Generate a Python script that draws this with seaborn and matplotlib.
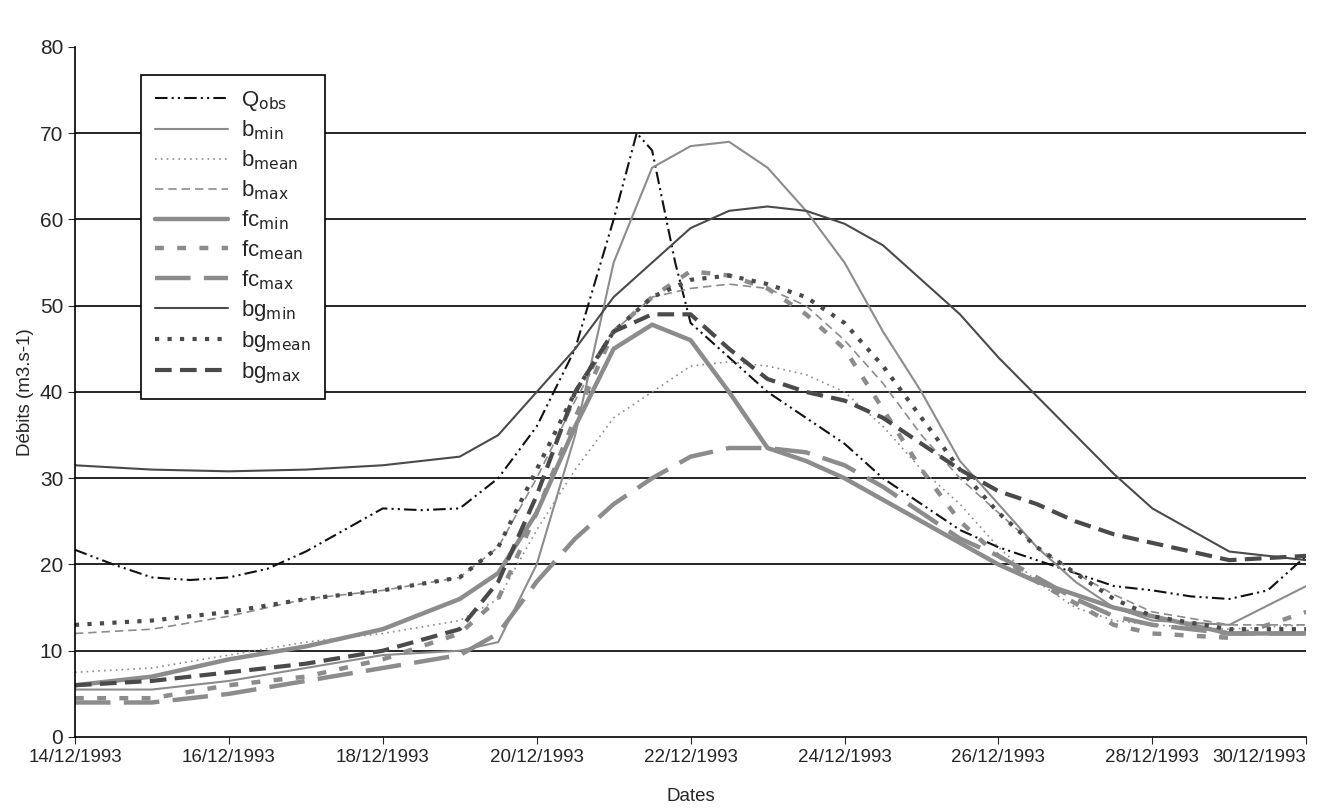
import matplotlib
matplotlib.use("Agg")
import matplotlib.pyplot as plt
import seaborn as sns
import numpy as np

sns.set_style("white")
plt.rcParams['font.family'] = ['Liberation Sans', 'DejaVu Sans']

date_labels = ["14/12/1993","16/12/1993","18/12/1993","20/12/1993","22/12/1993",
               "24/12/1993","26/12/1993","28/12/1993","30/12/1993"]

d_q = [0,0.5,1,1.5,2,2.5,3,3.5,4,4.5,5,5.5,6,6.5,7,7.3,7.5,7.8,8,8.5,9,9.5,10,10.5,11,11.5,12,12.5,13,13.5,14,14.5,15,15.5,16]
q_obs = [21.7,20,18.5,18.2,18.5,19.5,21.5,24,26.5,26.3,26.5,30,36,45,60,70,68,55,48,44,40,37,34,30,27,24,22,20.5,19,17.5,17,16.3,16,17,21]

d = [0,1,2,3,4,5,5.5,6,6.5,7,7.5,8,8.5,9,9.5,10,10.5,11,11.5,12,12.5,13,13.5,14,15,16]
b_min  = [5.5,5.5,6.5,8,9.5,10,11,20,35,55,66,68.5,69,66,61,55,47,40,32,27,22,18,15,13.5,13,17.5]
b_mean = [7.5,8,9.5,11,12,13.5,16,24,31,37,40,43,43.5,43,42,40,36,31,27,22,18,15,13.5,13,12.5,13]
b_max  = [12,12.5,14,16,17,18.5,22,30,39,47,51,52,52.5,52,50,46,41,35,30,26,22,19,16.5,14.5,13,13]
fc_min = [6,7,9,10.5,12.5,16,19,26,36,45,47.8,46,40,33.5,32,30,27.5,25,22.5,20,18,16.5,15,14,12,12]
fc_mean= [4.5,4.5,6,7,9,12,16,26,37,47,51,54,53.5,52,49,45,38,31,25,21,18,15.5,13,12,11.5,14.5]
fc_max = [4,4,5,6.5,8,9.5,12,18,23,27,30,32.5,33.5,33.5,33,31.5,29,26,23,21,18.5,16,14,13,12,12]
bg_min = [31.5,31,30.8,31,31.5,32.5,35,40,45,51,55,59,61,61.5,61,59.5,57,53,49,44,39.5,35,30.5,26.5,21.5,20.5]
bg_mean= [13,13.5,14.5,16,17,18.5,22,31,40,47,51,53,53.5,52.5,51,48,43,37,31,26,22,19,16,14,12.5,12.5]
bg_max = [6,6.5,7.5,8.5,10,12.5,18,28,40,47,49,49,45,41.5,40,39,37,34,31,28.5,27,25,23.5,22.5,20.5,21]

K, DK, GR = "#111111", "#4a4a4a", "#8c8c8c"
series = [
    (r"Q$_{\mathrm{obs}}$", d_q, q_obs, K, 1.5, (0,(6,2,1,2,1,2))),
    (r"b$_{\mathrm{min}}$", d, b_min, GR, 1.5, "-"),
    (r"b$_{\mathrm{mean}}$", d, b_mean, GR, 1.2, (0,(1,2.5))),
    (r"b$_{\mathrm{max}}$", d, b_max, GR, 1.2, (0,(5,3))),
    (r"fc$_{\mathrm{min}}$", d, fc_min, GR, 3.2, "-"),
    (r"fc$_{\mathrm{mean}}$", d, fc_mean, GR, 3.2, (0,(2,3))),
    (r"fc$_{\mathrm{max}}$", d, fc_max, GR, 3.2, (0,(8,3))),
    (r"bg$_{\mathrm{min}}$", d, bg_min, DK, 1.5, "-"),
    (r"bg$_{\mathrm{mean}}$", d, bg_mean, DK, 3.0, (0,(1,2))),
    (r"bg$_{\mathrm{max}}$", d, bg_max, DK, 3.0, (0,(4,2))),
]

fig = plt.figure(figsize=(13.24, 8.09), dpi=100)
ax = fig.add_axes([0.0566, 0.089, 0.930, 0.853])
for i in range(1, 8):
    ax.axhline(i*10, color="black", lw=1.2, zorder=0)
for lab, x, y, c, lw, ls in series:
    sns.lineplot(x=x, y=y, ax=ax, color=c, lw=lw, linestyle=ls, label=lab)

ax.set_xlim(0, 16)
ax.set_ylim(0, 80)
ax.set_xticks(range(0, 17, 2))
ax.set_xticklabels(date_labels, fontsize=13.5)
ax.get_xticklabels()[-1].set_horizontalalignment("right")
ax.get_xticklabels()[-1].set_x(16.25)
ax.set_yticks(range(0, 81, 10))
ax.tick_params(axis='y', labelsize=15, length=5, direction='out', left=True)
ax.tick_params(axis='x', length=5, direction='out', bottom=True)
for s in ["top", "right"]:
    ax.spines[s].set_visible(False)
for s in ["left", "bottom"]:
    ax.spines[s].set_color("black")
    ax.spines[s].set_linewidth(1.2)
ax.set_xlabel("Dates", fontsize=13.5, labelpad=16)
ax.set_ylabel("Débits (m3.s-1)", fontsize=13.5)
leg = ax.legend(loc="upper left", bbox_to_anchor=(0.045, 0.975), fontsize=16,
                frameon=True, fancybox=False, edgecolor="black", handlelength=3.3,
                labelspacing=0.28, borderpad=0.6, handletextpad=0.6)
leg.get_frame().set_linewidth(1.2)
leg.get_frame().set_alpha(1)
fig.savefig("out.png", dpi=100)
